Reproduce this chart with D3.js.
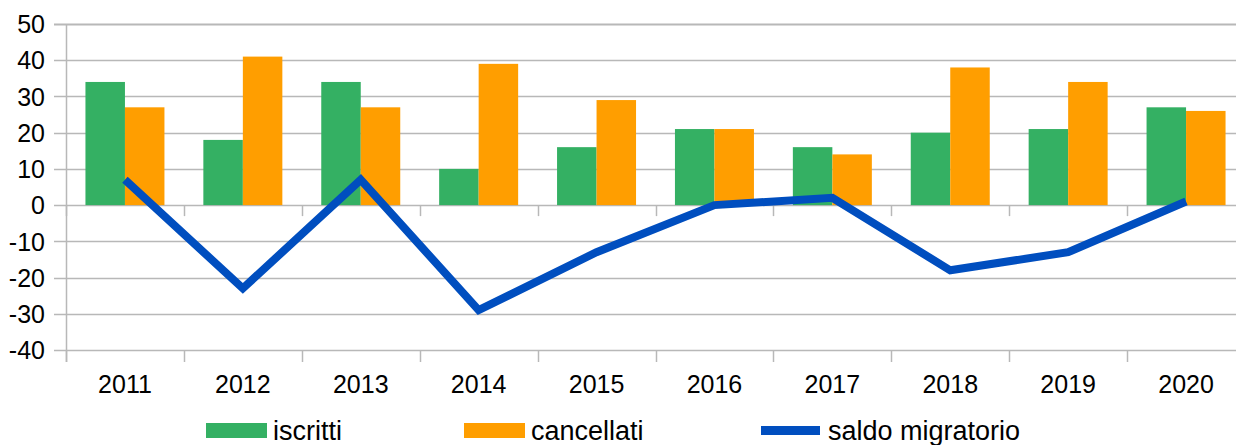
<!DOCTYPE html>
<html>
<head>
<meta charset="utf-8">
<script src="https://cdn.jsdelivr.net/npm/d3@7"></script>
<style>
  html, body { margin: 0; padding: 0; background: #fff; }
  svg { display: block; font-family: "Liberation Sans", Arial, sans-serif; }
</style>
</head>
<body>
<svg id="chart" width="1236" height="445"></svg>
<script>
const years = ["2011","2012","2013","2014","2015","2016","2017","2018","2019","2020"];
const iscritti = [34, 18, 34, 10, 16, 21, 16, 20, 21, 27];
const cancellati = [27, 41, 27, 39, 29, 21, 14, 38, 34, 26];
const saldo = [7, -23, 7, -29, -13, 0, 2, -18, -13, 1];
const yTicks = [50, 40, 30, 20, 10, 0, -10, -20, -30, -40];
const seriesNames = ["iscritti", "cancellati", "saldo migratorio"];
const colors = { iscritti: "#34b063", cancellati: "#ff9e00", saldo: "#004ebf" };

const svg = d3.select("#chart");
const plotLeft = 66, plotRight = 1245, plotTop = 24, plotBottom = 350;

const x = d3.scaleBand().domain(years).range([plotLeft, plotRight]).paddingInner(0.33).paddingOuter(0.165);
const xs = d3.scaleBand().domain(["iscritti","cancellati"]).range([0, x.bandwidth()]);
const y = d3.scaleLinear().domain([-40, 50]).range([plotBottom, plotTop]);
const step = x.step();

// gridlines
const grid = svg.append("g");
grid.selectAll("line").data(yTicks).join("line")
  .attr("x1", plotLeft - 12).attr("x2", 1236)
  .attr("y1", d => Math.round(y(d)) + 0.5).attr("y2", d => Math.round(y(d)) + 0.5)
  .attr("stroke", "#b8b8b8").attr("stroke-width", d => d === 50 ? 2 : 1.5);

// y axis line
svg.append("line").attr("x1", plotLeft + 0.5).attr("x2", plotLeft + 0.5)
  .attr("y1", y(50)).attr("y2", plotBottom + 12)
  .attr("stroke", "#b8b8b8").attr("stroke-width", 1.5);

// y labels
const yAxis = d3.axisLeft(y).tickValues(yTicks).tickSize(0).tickPadding(0).tickFormat(d => String(d));
const yg = svg.append("g").attr("transform", `translate(${plotLeft - 21},0)`).call(yAxis);
yg.select(".domain").remove();
yg.selectAll("text").attr("font-size", 25).attr("fill", "#000")
  .attr("font-family", "Liberation Sans, Arial, sans-serif").attr("dy", "0.35em");

// x category boundary ticks (at zero line and at bottom)
const bounds = d3.range(years.length + 1).map(i => plotLeft + i * step);
svg.append("g").selectAll("line").data(bounds).join("line")
  .attr("x1", d => Math.round(d) + 0.5).attr("x2", d => Math.round(d) + 0.5)
  .attr("y1", plotBottom).attr("y2", plotBottom + 12)
  .attr("stroke", "#b8b8b8").attr("stroke-width", 1.5);
svg.append("g").selectAll("line").data(bounds).join("line")
  .attr("x1", d => Math.round(d) + 0.5).attr("x2", d => Math.round(d) + 0.5)
  .attr("y1", y(0)).attr("y2", y(0) + 11)
  .attr("stroke", "#b8b8b8").attr("stroke-width", 1.5);

// x labels
const xAxis = d3.axisBottom(x).tickSize(0).tickPadding(0);
const xg = svg.append("g").attr("transform", `translate(0,${plotBottom + 43})`).call(xAxis);
xg.select(".domain").remove();
xg.selectAll("text").attr("font-size", 25).attr("fill", "#000").attr("dy", 0)
  .attr("font-family", "Liberation Sans, Arial, sans-serif");

// bars
const barData = [];
years.forEach((yr, i) => {
  barData.push({ yr, key: "iscritti", v: iscritti[i] });
  barData.push({ yr, key: "cancellati", v: cancellati[i] });
});
svg.append("g").selectAll("rect").data(barData).join("rect")
  .attr("x", d => x(d.yr) + xs(d.key))
  .attr("width", xs.bandwidth())
  .attr("y", d => y(Math.max(0, d.v)))
  .attr("height", d => Math.abs(y(d.v) - y(0)))
  .attr("fill", d => colors[d.key]);

// line
const line = d3.line().x((d, i) => x(years[i]) + x.bandwidth() / 2).y(d => y(d));
svg.append("path").datum(saldo).attr("d", line)
  .attr("fill", "none").attr("stroke", colors.saldo).attr("stroke-width", 8)
  .attr("stroke-linejoin", "miter").attr("stroke-linecap", "butt");

// legend
const legend = svg.append("g");
const legItems = [
  { name: seriesNames[0], type: "rect", color: colors.iscritti, x: 206 },
  { name: seriesNames[1], type: "rect", color: colors.cancellati, x: 464 },
  { name: seriesNames[2], type: "line", color: colors.saldo, x: 761 }
];
legItems.forEach(it => {
  if (it.type === "rect") {
    legend.append("rect").attr("x", it.x).attr("y", 423).attr("width", 61).attr("height", 15).attr("fill", it.color);
  } else {
    legend.append("rect").attr("x", it.x).attr("y", 426).attr("width", 59).attr("height", 9).attr("fill", it.color);
  }
  legend.append("text").attr("x", it.x + 67).attr("y", 440)
    .attr("font-size", 27).attr("fill", "#000").text(it.name);
});
</script>
</body>
</html>
